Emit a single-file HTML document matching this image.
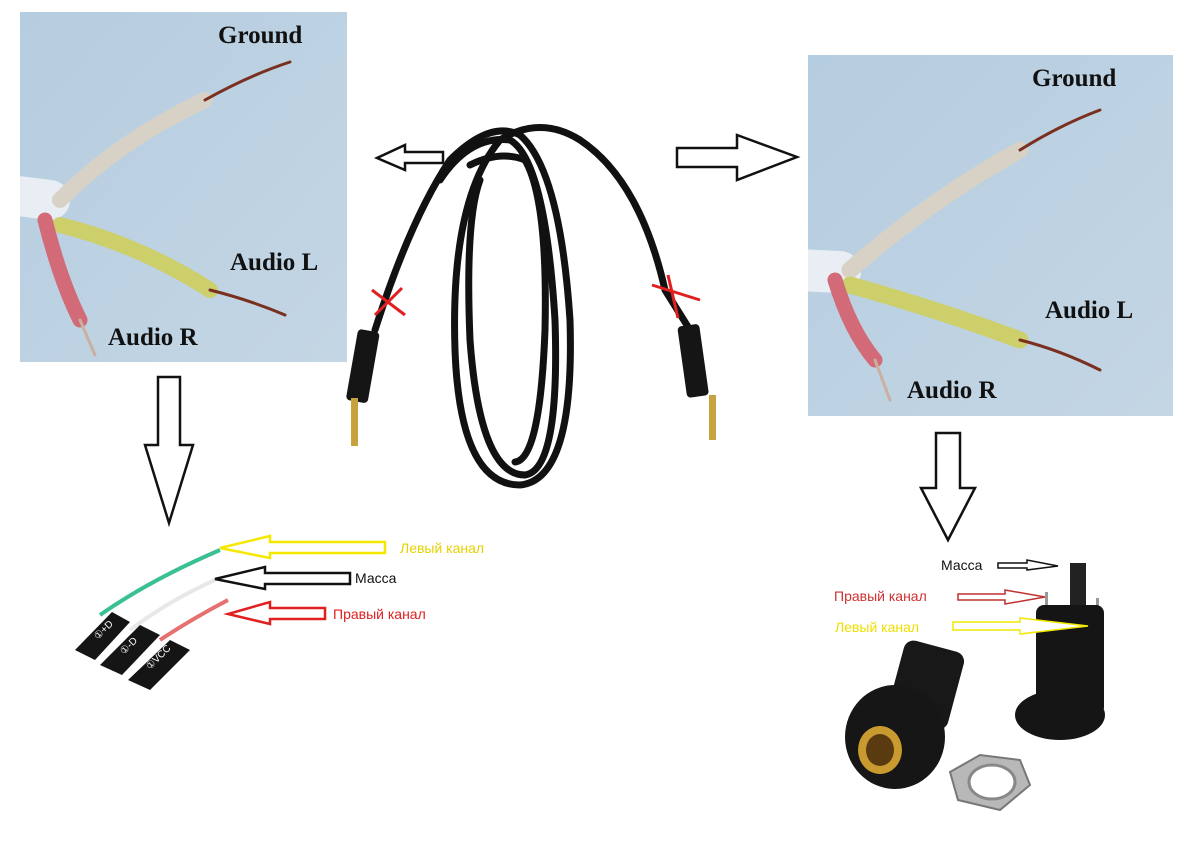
<!DOCTYPE html>
<html><head><meta charset="utf-8"><style>
html,body{margin:0;padding:0;background:#fff;width:1200px;height:860px;overflow:hidden}
svg{display:block}
.lbl{font-family:"Liberation Serif",serif;font-weight:bold;font-size:25px;fill:#111}
.ru{font-family:"Liberation Sans","Noto Sans CJK SC",sans-serif;font-size:14px}
</style></head><body>
<svg width="1200" height="860" viewBox="0 0 1200 860" xmlns="http://www.w3.org/2000/svg">
<defs>
<linearGradient id="bg" x1="0" y1="0" x2="1" y2="1"><stop offset="0" stop-color="#b5cde0"/><stop offset="1" stop-color="#c4d6e4"/></linearGradient>
<clipPath id="c1"><rect x="20" y="12" width="327" height="350"/></clipPath>
<clipPath id="c2"><rect x="808" y="55" width="365" height="361"/></clipPath>
</defs>
<!-- left photo -->
<rect x="20" y="12" width="327" height="350" fill="url(#bg)"/>
<g stroke-linecap="round" fill="none" clip-path="url(#c1)">
<path d="M10 195 L50 200" stroke="#e8eef4" stroke-width="40"/>
<path d="M60 200 Q120 140 205 100" stroke="#d8d2c6" stroke-width="16"/>
<path d="M205 100 Q250 75 290 62" stroke="#7a3020" stroke-width="3"/>
<path d="M60 225 Q140 245 210 290" stroke="#cccf6a" stroke-width="16"/>
<path d="M210 290 Q250 300 285 315" stroke="#7a3020" stroke-width="3"/>
<path d="M45 220 Q60 280 80 320" stroke="#d26a78" stroke-width="15"/>
<path d="M80 320 L95 355" stroke="#c9b0a0" stroke-width="3"/>
</g>
<text class="lbl" x="218" y="43">Ground</text>
<text class="lbl" x="230" y="270">Audio L</text>
<text class="lbl" x="108" y="345">Audio R</text>
<!-- right photo -->
<rect x="808" y="55" width="365" height="361" fill="url(#bg)"/>
<g stroke-linecap="round" fill="none" clip-path="url(#c2)">
<path d="M798 270 L840 272" stroke="#e8eef4" stroke-width="42"/>
<path d="M850 270 Q930 200 1020 150" stroke="#d8d2c6" stroke-width="17"/>
<path d="M1020 150 Q1060 125 1100 110" stroke="#7a3020" stroke-width="3"/>
<path d="M850 285 Q940 310 1020 340" stroke="#cccf6a" stroke-width="17"/>
<path d="M1020 340 Q1060 350 1100 370" stroke="#7a3020" stroke-width="3"/>
<path d="M835 280 Q850 330 875 360" stroke="#d26a78" stroke-width="15"/>
<path d="M875 360 L890 400" stroke="#c9b0a0" stroke-width="3"/>
</g>
<text class="lbl" x="1032" y="86">Ground</text>
<text class="lbl" x="1045" y="318">Audio L</text>
<text class="lbl" x="907" y="398">Audio R</text>
<!-- cable -->
<g fill="none" stroke="#111" stroke-width="7" stroke-linecap="round">
<path d="M375 330 Q410 220 450 160 Q490 120 520 135 Q560 170 570 320 Q575 480 520 485 Q460 485 455 350 Q450 200 500 140 Q540 115 580 140 Q640 180 665 290 L690 330"/>
<path d="M440 180 Q470 135 510 140 Q545 160 555 320 Q560 470 525 475 Q480 475 470 340 Q465 220 480 180"/>
<path d="M470 165 Q500 150 525 160 Q548 200 545 330 Q540 460 515 462"/>
</g>
<rect x="352" y="330" width="22" height="72" rx="4" fill="#151515" transform="rotate(10 362 365)"/>
<rect x="351" y="398" width="7" height="48" fill="#c9a240"/>
<rect x="682" y="325" width="22" height="72" rx="4" fill="#151515" transform="rotate(-8 692 360)"/>
<rect x="709" y="395" width="7" height="45" fill="#c9a240"/>
<g stroke="#e02020" stroke-width="3"><path d="M372 290 L405 315 M402 288 L375 315"/><path d="M652 285 L700 300 M668 275 L678 318"/></g>
<!-- hollow arrows -->
<g fill="#fff" stroke="#111" stroke-width="2.5">
<path d="M443 152 L405 152 L405 145 L377 158 L405 170 L405 163 L443 163 Z"/>
<path d="M677 148 L737 148 L737 135 L797 157 L737 180 L737 167 L677 167 Z"/>
<path d="M158 377 L180 377 L180 445 L193 445 L169 523 L145 445 L158 445 Z"/>
<path d="M936 433 L960 433 L960 488 L975 488 L948 540 L921 488 L936 488 Z"/>
</g>
<!-- bottom-left connectors -->
<g fill="none" stroke-width="4">
<path d="M100 615 Q150 580 220 550" stroke="#3bbf95"/>
<path d="M130 630 Q170 600 215 580" stroke="#e8e8e8"/>
<path d="M160 640 Q190 620 228 600" stroke="#e57070"/>
</g>
<g fill="#151515">
<path d="M75 650 L112 612 L130 622 L95 660 Z"/>
<path d="M100 665 L140 625 L160 635 L122 675 Z"/>
<path d="M128 680 L170 640 L190 650 L150 690 Z"/>
</g>
<g fill="#fff" font-family="Liberation Sans" font-size="10"><text x="98" y="640" transform="rotate(-45 98 640)">①+D</text><text x="124" y="655" transform="rotate(-45 124 655)">①-D</text><text x="150" y="670" transform="rotate(-45 150 670)">①VCC</text></g>
<g fill="#fff" stroke-width="2.5">
<path d="M385 542 L270 542 L270 536 L220 548 L270 558 L270 553 L385 553 Z" stroke="#f5e800"/>
<path d="M350 573 L265 573 L265 567 L215 579 L265 589 L265 584 L350 584 Z" stroke="#111"/>
<path d="M325 608 L270 608 L270 602 L228 614 L270 624 L270 619 L325 619 Z" stroke="#e02020"/>
</g>
<text class="ru" x="400" y="553" fill="#e6d200">Левый канал</text>
<text class="ru" x="355" y="583" fill="#111">Масса</text>
<text class="ru" x="333" y="619" fill="#e02020">Правый канал</text>
<!-- bottom-right jack -->
<rect x="1070" y="563" width="16" height="55" fill="#222"/>
<rect x="1045" y="592" width="3" height="30" fill="#999"/><rect x="1096" y="598" width="3" height="30" fill="#999"/>
<rect x="1036" y="605" width="68" height="110" rx="8" fill="#151515"/>
<ellipse cx="1060" cy="715" rx="45" ry="25" fill="#151515"/>
<rect x="895" y="645" width="62" height="80" rx="10" fill="#181818" transform="rotate(15 926 685)"/>
<ellipse cx="895" cy="737" rx="50" ry="52" fill="#161616"/>
<ellipse cx="880" cy="750" rx="22" ry="24" fill="#c89a30"/>
<ellipse cx="880" cy="750" rx="14" ry="16" fill="#5a3a10"/>
<path d="M950 772 L980 755 L1020 760 L1030 785 L1000 810 L958 800 Z" fill="#b8b8b8" stroke="#777" stroke-width="2"/>
<ellipse cx="992" cy="782" rx="23" ry="17" fill="#fff" stroke="#888" stroke-width="3"/>
<g fill="#fff" stroke-width="1.5">
<path d="M998 563 L1027 563 L1027 560 L1058 566 L1027 570 L1027 568 L998 568 Z" stroke="#111"/>
<path d="M958 594 L1005 594 L1005 590 L1045 597 L1005 604 L1005 600 L958 600 Z" stroke="#c03030"/>
<path d="M953 622 L1020 622 L1020 618 L1088 626 L1020 634 L1020 630 L953 630 Z" stroke="#f0e800"/>
</g>
<text class="ru" x="941" y="570" fill="#111">Масса</text>
<text class="ru" x="834" y="601" fill="#d03030">Правый канал</text>
<text class="ru" x="835" y="632" fill="#f0e000">Левый канал</text>
</svg>
</body></html>
